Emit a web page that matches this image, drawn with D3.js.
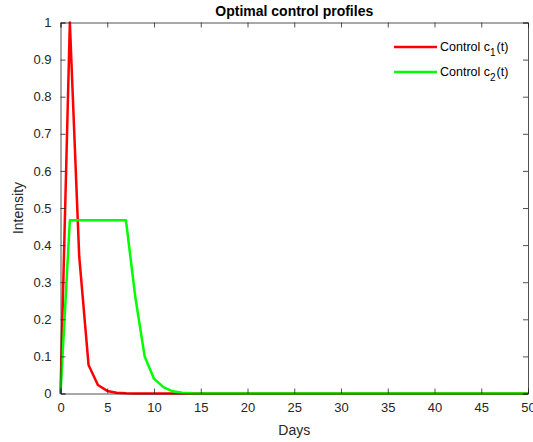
<!DOCTYPE html>
<html><head><meta charset="utf-8">
<script src="https://cdn.jsdelivr.net/npm/d3@7"></script>
<style>
body{margin:0;background:#fff;}
text{font-family:"Liberation Sans",Arial,Helvetica,sans-serif;}
</style></head>
<body><svg id="c" width="533" height="442"></svg>
<script>
const days = d3.range(0, 51);
const c1Head = [0, 1.0, 0.37, 0.077, 0.023, 0.007, 0.002, 0.0005];
const c2Head = [0, 0.467, 0.467, 0.467, 0.467, 0.467, 0.467, 0.467, 0.26, 0.1, 0.04, 0.017, 0.006, 0.002, 0.0006];
const c1 = days.map((d,i)=> i < c1Head.length ? c1Head[i] : 0);
const c2 = days.map((d,i)=> i < c2Head.length ? c2Head[i] : 0);
const xTicks = [0,5,10,15,20,25,30,35,40,45,50];
const yTicks = [0,0.1,0.2,0.3,0.4,0.5,0.6,0.7,0.8,0.9,1];
const seriesNames = ["Control c", "Control c"];
const seriesSubs = ["1","2"];
const colors = ["#ff0000","#00ff00"];

const svg = d3.select("#c");
const L=60.5, R=528, T=22.5, B=393.5;
const x = d3.scaleLinear().domain([0,50]).range([L,R]);
const y = d3.scaleLinear().domain([0,1]).range([B,T]);
const axCol="#262626";

const line = d3.line().x((d,i)=>x(days[i])).y(d=>y(d));
[c1,c2].forEach((s,k)=>{
  svg.append("path").datum(s).attr("d",line).attr("fill","none")
    .attr("stroke",colors[k]).attr("stroke-width",2.5).attr("stroke-linejoin","round");
});

// axes
const gx = svg.append("g").attr("transform",`translate(0,${B})`)
  .call(d3.axisBottom(x).tickValues(xTicks).tickSize(-5).tickPadding(9).tickFormat(d3.format("d")));
const gxt = svg.append("g").attr("transform",`translate(0,${T})`)
  .call(d3.axisTop(x).tickValues(xTicks).tickSize(-5).tickFormat(""));
const gy = svg.append("g").attr("transform",`translate(${L},0)`)
  .call(d3.axisLeft(y).tickValues(yTicks).tickSize(-5).tickPadding(9).tickFormat(d=>d===0||d===1?d3.format("d")(d):d3.format(".1f")(d)));
const gyr = svg.append("g").attr("transform",`translate(${R},0)`)
  .call(d3.axisRight(y).tickValues(yTicks).tickSize(-5).tickFormat(""));
[gx,gxt,gy,gyr].forEach(g=>{
  g.select(".domain").attr("stroke",axCol).attr("stroke-width",0.8);
  g.selectAll(".tick line").attr("stroke",axCol).attr("stroke-width",0.8);
  g.selectAll("text").attr("fill",axCol).attr("font-size",13).attr("font-family","Liberation Sans, Arial, sans-serif");
});

svg.append("text").attr("x",(L+R)/2).attr("y",16).attr("text-anchor","middle")
  .attr("font-size",14).attr("font-weight","bold").attr("fill","#000").text("Optimal control profiles");
svg.append("text").attr("x",(L+R)/2).attr("y",435).attr("text-anchor","middle")
  .attr("font-size",14).attr("fill",axCol).text("Days");
svg.append("text").attr("transform",`translate(23,${(T+B)/2}) rotate(-90)`).attr("text-anchor","middle")
  .attr("font-size",14).attr("fill",axCol).text("Intensity");

// legend
const ly=[47,72];
seriesNames.forEach((n,k)=>{
  svg.append("line").attr("x1",394).attr("x2",437).attr("y1",ly[k]).attr("y2",ly[k])
    .attr("stroke",colors[k]).attr("stroke-width",2.5);
  const t = svg.append("text").attr("x",440).attr("y",ly[k]+4).attr("font-size",12.5).attr("fill","#000");
  t.append("tspan").text(n);
  t.append("tspan").attr("dy",5).attr("font-size",10).text(seriesSubs[k]);
  t.append("tspan").attr("dy",-5).attr("dx",1).text("(t)");
});
</script></body></html>
